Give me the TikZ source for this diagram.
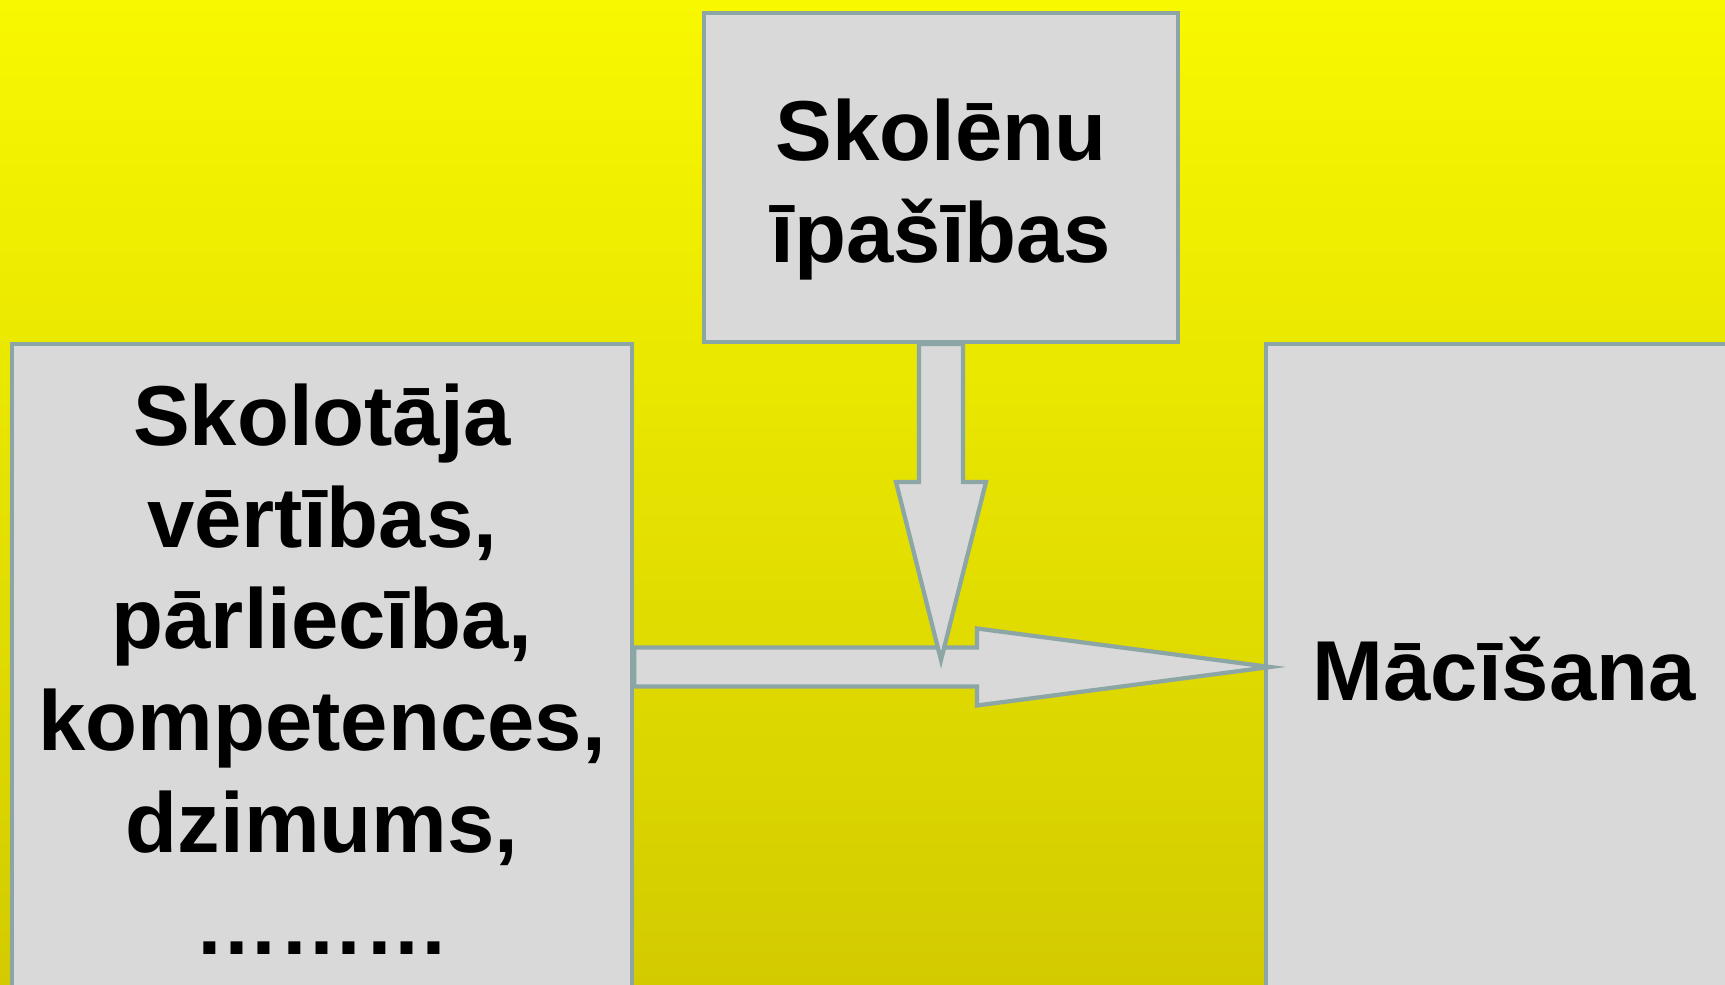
\documentclass[tikz,border=0pt]{standalone}
\usepackage{fontspec}
\setmainfont{Liberation Sans}
\usetikzlibrary{positioning}
\definecolor{boxgray}{RGB}{217,217,217}
\definecolor{boxedge}{RGB}{140,165,165}
\definecolor{bgtop}{RGB}{248,248,0}
\definecolor{bgbottom}{RGB}{211,203,0}

\begin{document}
\begin{tikzpicture}
\tikzset{factorbox/.style={rectangle,draw=boxedge,fill=boxgray,line width=1.2pt,inner sep=0pt,align=center,font=\fontsize{24.2}{29}\selectfont\bfseries}}
\tikzset{fatarrow/.style={draw=boxedge,fill=boxgray,line width=1.2pt,line join=miter}}
\useasboundingbox (0,0) rectangle (17.25,-9.85);
\shade[top color=bgtop,bottom color=bgbottom] (0,0) rectangle (17.25,-9.85);
\node[factorbox,minimum width=4.74cm,minimum height=3.29cm](skoleni) at (9.41,-1.775){\rule{0pt}{0.86cm}Skolēnu\\īpašības};
\node[factorbox,minimum width=6.2cm,minimum height=6.5cm,anchor=north west](skolotajs) at (0.10,-3.42){Skolotāja\\vērtības,\\pārliecība,\\kompetences,\\dzimums,\\………};
\node[factorbox,minimum width=4.76cm,minimum height=6.5cm,anchor=north west](macisana) at (12.64,-3.42){Mācīšana};
\coordinate (righttip) at (12.70,-6.67);
\coordinate (downtip) at (9.41,-6.60);
% right arrow
\draw[fatarrow] ([yshift=1.95mm]skolotajs.east |- righttip) -- ([xshift=-2.93cm,yshift=1.95mm]righttip) -- ([xshift=-2.93cm,yshift=3.85mm]righttip) -- (righttip) -- ([xshift=-2.93cm,yshift=-3.85mm]righttip) -- ([xshift=-2.93cm,yshift=-1.95mm]righttip) -- ([yshift=-1.95mm]skolotajs.east |- righttip) -- cycle;
% down arrow
\draw[fatarrow] ([xshift=-2.2mm]skoleni.south) -- ([xshift=-2.2mm,yshift=1.78cm]downtip) -- ([xshift=-4.5mm,yshift=1.78cm]downtip) -- (downtip) -- ([xshift=4.5mm,yshift=1.78cm]downtip) -- ([xshift=2.2mm,yshift=1.78cm]downtip) -- ([xshift=2.2mm]skoleni.south) -- cycle;
\end{tikzpicture}
\end{document}
